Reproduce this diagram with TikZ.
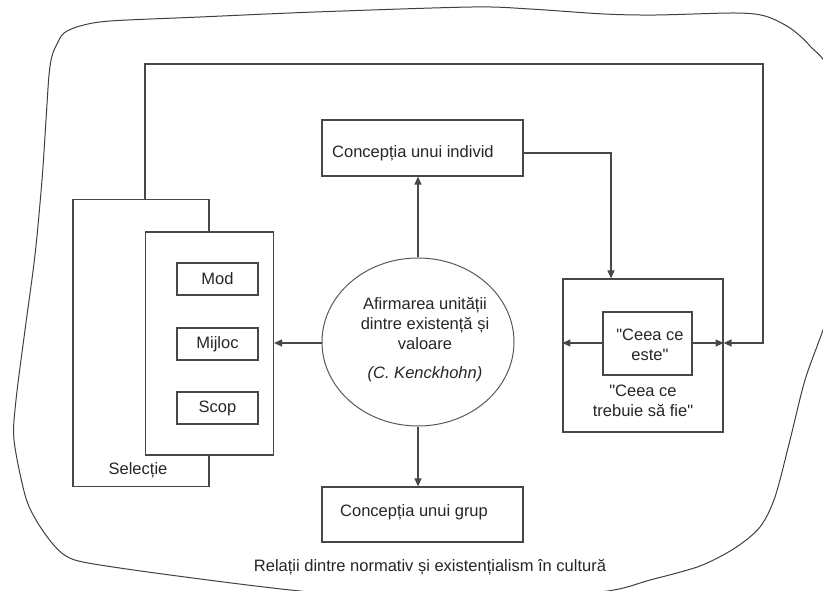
\documentclass[tikz,border=0pt]{standalone}
\usepackage{fontspec}
\setmainfont{Liberation Sans}
\newfontfamily\arialfont{Liberation Sans}
\usetikzlibrary{arrows.meta,shapes.geometric}
\begin{document}
\begin{tikzpicture}[x=1pt,y=-1pt,
  line/.style={draw=black!72,line width=1.2pt},
  box/.style={line,rectangle,inner sep=0pt,fill=white},
  arr/.style={line,-{Triangle[length=8pt,width=7pt]}},
  txt/.style={inner sep=0pt,font=\arialfont\fontsize{16.5}{20}\selectfont,text=black!85,align=center}]
\useasboundingbox (0,0) rectangle (823,591);
\fill[white] (0,0) rectangle (823,591);
% outer blob
\begin{scope}
\clip (0,0) rectangle (823,591);
\draw[black!75,line width=1pt] plot[smooth cycle,tension=0.5] coordinates {
 (57,44) (64,33) (80,26) (110,21) (200,17) (315,12) (472,7) (530,9) (604,14) (656,15) (735,13) (765,16) (790,28) (810,46) (830,75)
 (843,180) (835,290) (823,330) (805,380) (790,440) (775,497) (760,527) (735,548) (700,566) (650,580) (600,592)
 (450,603) (300,591) (170,575) (88,563) (66,556) (52,543) (36,520) (25,495) (14,440) (16,400) (25,330) (35,255) (42,180) (46,120) (49,75) (52,56)};
\end{scope}
% Selectie boxes
\node[box,minimum width=136,minimum height=287] (sel) at (141,343) {};
\node[txt] (seltxt) at (138,470) {Selecție};
\node[box,minimum width=128,minimum height=223] (inner) at (209.5,343.5) {};
\node[box,minimum width=81,minimum height=32] (mod) at (217.5,279) {};
\node[txt] (modt) at (217.5,279) {Mod};
\node[box,minimum width=81,minimum height=32] (mij) at (217.5,344) {};
\node[txt] (mijt) at (217.5,344) {Mijloc};
\node[box,minimum width=81,minimum height=32] (sco) at (217.5,408) {};
\node[txt] (scot) at (217.5,408) {Scop};
% ellipse
\node[draw=black!65,line width=1pt,ellipse,minimum width=192,minimum height=168,inner sep=0pt] (ell) at (418,342) {};
\node[txt] (ellt) at (425,340) {Afirmarea unității\\dintre existență și\\valoare\\[9pt]\textit{(C. Kenckhohn)}};
% individ
\node[box,minimum width=201,minimum height=56] (ind) at (422.5,148) {};
\node[txt,anchor=west] (indt) at (332,153) {Concepția unui individ};
% grup
\node[box,minimum width=201,minimum height=55] (grp) at (422.5,514.5) {};
\node[txt,anchor=west] (grpt) at (340,512) {Concepția unui grup};
% right boxes
\node[box,minimum width=160,minimum height=153] (rb) at (643,355.5) {};
\node[box,minimum width=89,minimum height=63] (ce) at (647.5,343.5) {};
\node[txt] (cet) at (650,345) {"Ceea ce\\este"};
\node[txt] (tft) at (643,401) {"Ceea ce\\trebuie să fie"};
% caption
\node[txt] (cap) at (430,567) {Relații dintre normativ și existențialism în cultură};
% connectors
\coordinate (ty) at (0,343);
\draw[arr] (ell.north) -- (ell.north |- ind.south);
\draw[arr] (ell.south) -- (ell.south |- grp.north);
\draw[arr] (ell.west |- ty) -- (inner.east |- ty);
\coordinate (c1) at (611,153);
\draw[arr] (ind.east |- c1) -- (c1) -- (c1 |- rb.north);
\coordinate (l1) at (145,64);
\coordinate (l2) at (763,64);
\draw[arr] (l1 |- sel.north) -- (l1) -- (l2) -- (l2 |- ty) -- (rb.east |- ty);
\draw[arr] (ce.west |- ty) -- (rb.west |- ty);
\draw[arr] (ce.east |- ty) -- (rb.east |- ty);
\end{tikzpicture}
\end{document}
